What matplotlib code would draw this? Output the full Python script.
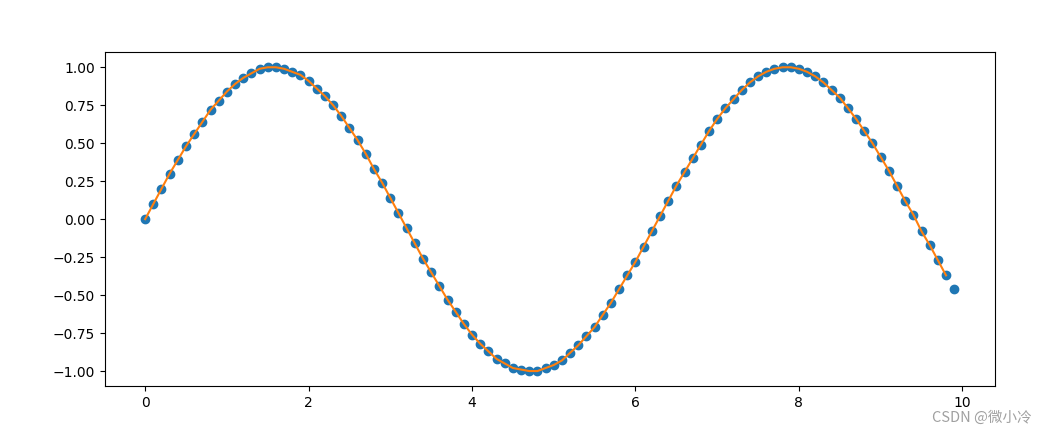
import matplotlib
matplotlib.use("Agg")
import matplotlib.pyplot as plt

x_vals = [0.0, 0.1, 0.2, 0.3, 0.4, 0.5, 0.6, 0.7, 0.8, 0.9,
          1.0, 1.1, 1.2, 1.3, 1.4, 1.5, 1.6, 1.7, 1.8, 1.9,
          2.0, 2.1, 2.2, 2.3, 2.4, 2.5, 2.6, 2.7, 2.8, 2.9,
          3.0, 3.1, 3.2, 3.3, 3.4, 3.5, 3.6, 3.7, 3.8, 3.9,
          4.0, 4.1, 4.2, 4.3, 4.4, 4.5, 4.6, 4.7, 4.8, 4.9,
          5.0, 5.1, 5.2, 5.3, 5.4, 5.5, 5.6, 5.7, 5.8, 5.9,
          6.0, 6.1, 6.2, 6.3, 6.4, 6.5, 6.6, 6.7, 6.8, 6.9,
          7.0, 7.1, 7.2, 7.3, 7.4, 7.5, 7.6, 7.7, 7.8, 7.9,
          8.0, 8.1, 8.2, 8.3, 8.4, 8.5, 8.6, 8.7, 8.8, 8.9,
          9.0, 9.1, 9.2, 9.3, 9.4, 9.5, 9.6, 9.7, 9.8, 9.9]

y_vals = [0.00, 0.10, 0.20, 0.30, 0.39, 0.48, 0.56, 0.64, 0.72, 0.78,
          0.84, 0.89, 0.93, 0.96, 0.99, 1.00, 1.00, 0.99, 0.97, 0.95,
          0.91, 0.86, 0.81, 0.75, 0.68, 0.60, 0.52, 0.43, 0.33, 0.24,
          0.14, 0.04, -0.06, -0.16, -0.26, -0.35, -0.44, -0.53, -0.61, -0.69,
          -0.76, -0.82, -0.87, -0.92, -0.95, -0.98, -0.99, -1.00, -1.00, -0.98,
          -0.96, -0.93, -0.88, -0.83, -0.77, -0.71, -0.63, -0.55, -0.46, -0.37,
          -0.28, -0.18, -0.08, 0.02, 0.12, 0.22, 0.31, 0.40, 0.49, 0.58,
          0.66, 0.73, 0.79, 0.85, 0.90, 0.94, 0.97, 0.99, 1.00, 1.00,
          0.99, 0.97, 0.94, 0.90, 0.85, 0.80, 0.73, 0.66, 0.58, 0.50,
          0.41, 0.32, 0.22, 0.12, 0.03, -0.08, -0.17, -0.27, -0.37, -0.46]

# the line stops one sample before the last point
line_x = x_vals[:-1]
line_y = y_vals[:-1]

fig = plt.figure(figsize=(10.47, 4.34), dpi=100)
ax = fig.add_axes([0.1, 0.11, 0.85, 0.77])
ax.scatter(x_vals, y_vals, color="#1f77b4")
ax.plot(line_x, line_y, color="#ff7f0e")

fig.text(0.985, 0.02, "CSDN @微小冷", ha="right", va="bottom", color="#a0a0a0",
         fontsize=10.5, family=["Noto Sans CJK SC", "DejaVu Sans"])

fig.savefig("out.png", dpi=100)
